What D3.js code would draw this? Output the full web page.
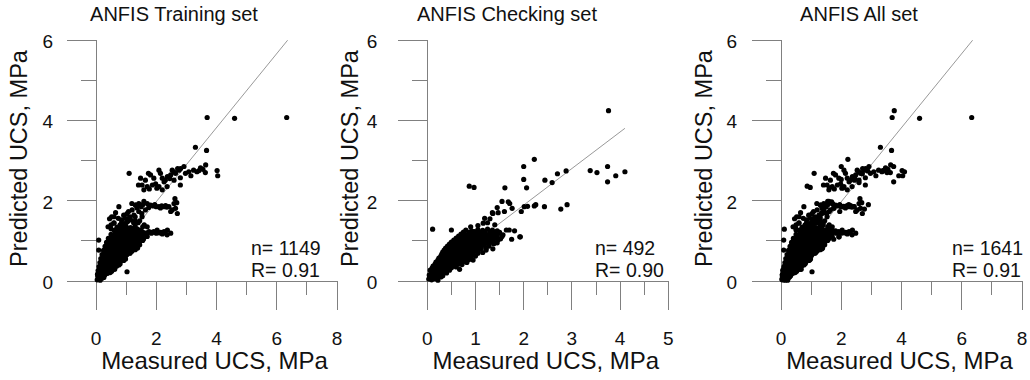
<!DOCTYPE html>
<html><head><meta charset="utf-8">
<script src="https://cdn.jsdelivr.net/npm/d3@7"></script>
<style>
html,body{margin:0;padding:0;background:#fff;}
svg{display:block;font-family:"Liberation Sans",Arial,sans-serif;}
</style></head>
<body>
<svg id="chart" width="1030" height="380"></svg>
<script>
// ---------- data (MPa) ----------
const panelTitles = ["ANFIS Training set", "ANFIS Checking set", "ANFIS All set"];
const nLabels = ["n= 1149", "n= 492", "n= 1641"];
const rLabels = ["R= 0.91", "R= 0.90", "R= 0.91"];
const xMaxes = [8, 5, 8];
const xMajorTicks = [[0,2,4,6,8],[0,1,2,3,4,5],[0,2,4,6,8]];
const xMinorTicks = [[1,3,5,7],[0.5,1.5,2.5,3.5,4.5],[1,3,5,7]];
const yMajorTicks = [0,2,4,6];
const yMinorTicks = [1,3,5];
const fitIntercepts = [0.13, 0.07, 0.13];
const fitSlopes = [0.922, 0.91, 0.922];
const fitXEnds = [6.36, 4.10, 6.36];

const trainingPoints = [
 [0.04,0.03],[0.09,0.06],[0.14,0.02],[0.2,0.07],[0.06,0.12],
 [0.05,0.17],[0.12,0.14],[0.2,0.18],[0.29,0.15],[0.38,0.19],
 [0.07,0.26],[0.15,0.24],[0.24,0.27],[0.33,0.23],[0.43,0.26],[0.52,0.24],
 [0.1,0.36],[0.19,0.34],[0.28,0.37],[0.37,0.33],[0.46,0.36],[0.56,0.34],[0.68,0.37],
 [0.13,0.46],[0.22,0.44],[0.31,0.47],[0.41,0.43],[0.5,0.46],[0.6,0.44],[0.7,0.47],[0.8,0.43],
 [0.16,0.56],[0.25,0.54],[0.35,0.57],[0.45,0.53],[0.55,0.56],[0.65,0.54],[0.75,0.57],[0.86,0.53],[0.98,0.55],
 [0.2,0.66],[0.3,0.64],[0.4,0.67],[0.5,0.63],[0.6,0.66],[0.7,0.64],[0.8,0.67],[0.91,0.63],[1.03,0.66],
 [0.25,0.76],[0.35,0.74],[0.45,0.77],[0.55,0.73],[0.65,0.76],[0.75,0.74],[0.85,0.77],[0.95,0.73],[1.07,0.76],[1.19,0.74],
 [0.3,0.86],[0.4,0.84],[0.5,0.87],[0.6,0.83],[0.7,0.86],[0.8,0.84],[0.9,0.87],[1.0,0.83],[1.11,0.86],[1.24,0.84],[1.37,0.87],
 [0.35,0.96],[0.45,0.94],[0.55,0.97],[0.65,0.93],[0.75,0.96],[0.85,0.94],[0.95,0.97],[1.05,0.93],[1.17,0.96],[1.29,0.94],[1.44,0.97],
 [0.41,1.06],[0.51,1.04],[0.61,1.07],[0.71,1.03],[0.81,1.06],[0.91,1.04],[1.01,1.07],[1.11,1.03],[1.22,1.06],[1.35,1.04],[1.49,1.07],
 [0.5,1.16],[0.61,1.14],[0.72,1.17],[0.82,1.13],[0.92,1.16],[1.02,1.14],[1.12,1.17],[1.22,1.13],[1.34,1.16],[1.47,1.14],[1.61,1.17],
 [0.61,1.26],[0.72,1.24],[0.82,1.27],[0.92,1.23],[1.02,1.26],[1.12,1.24],[1.22,1.27],[1.35,1.23],[1.48,1.26],
 [0.7,1.34],[0.85,1.32],[1.0,1.35],[1.15,1.33],[1.3,1.36],
 [0.08,0.1],[0.17,0.11],[0.26,0.09],
 [0.1,0.2],[0.19,0.21],[0.28,0.19],[0.37,0.2],[0.47,0.21],
 [0.12,0.3],[0.22,0.31],[0.32,0.29],[0.42,0.3],[0.52,0.31],[0.62,0.29],
 [0.17,0.4],[0.27,0.41],[0.36,0.39],[0.46,0.4],[0.56,0.41],[0.66,0.39],[0.76,0.4],
 [0.2,0.5],[0.3,0.51],[0.4,0.49],[0.5,0.5],[0.6,0.51],[0.7,0.49],[0.81,0.5],[0.92,0.51],
 [0.25,0.6],[0.35,0.61],[0.45,0.59],[0.55,0.6],[0.65,0.61],[0.75,0.59],[0.86,0.6],[0.97,0.61],
 [0.28,0.7],[0.4,0.71],[0.5,0.69],[0.6,0.7],[0.7,0.71],[0.8,0.69],[0.9,0.7],[1.01,0.71],[1.13,0.69],
 [0.35,0.8],[0.45,0.81],[0.55,0.79],[0.65,0.8],[0.75,0.81],[0.85,0.79],[0.95,0.8],[1.05,0.81],[1.17,0.79],[1.3,0.8],
 [0.4,0.9],[0.5,0.91],[0.6,0.89],[0.7,0.9],[0.8,0.91],[0.9,0.89],[1.0,0.9],[1.1,0.91],[1.22,0.89],[1.35,0.9],
 [0.45,1.0],[0.56,1.01],[0.66,0.99],[0.76,1.0],[0.86,1.01],[0.96,0.99],[1.06,1.0],[1.17,1.01],[1.28,0.99],[1.4,1.0],[1.55,1.01],
 [0.55,1.1],[0.66,1.11],[0.77,1.09],[0.87,1.1],[0.97,1.11],[1.07,1.09],[1.17,1.1],[1.28,1.11],[1.4,1.09],[1.54,1.1],[1.7,1.11],
 [0.66,1.2],[0.77,1.21],[0.87,1.19],[0.97,1.2],[1.07,1.21],[1.17,1.19],[1.28,1.2],[1.41,1.21],[1.55,1.19],[1.7,1.2],[1.85,1.21],[2.0,1.19],[2.15,1.21],[2.3,1.2],
 [0.78,1.3],[0.92,1.29],[1.08,1.31],[1.22,1.3],[1.38,1.29],
 [0.45,1.55],[0.52,1.6],[0.74,1.56],[0.97,1.56],[1.13,1.6],[1.3,1.6],[1.52,1.68],[0.6,1.45],[0.85,1.45],
 [1.05,1.48],[1.25,1.45],[1.45,1.5],[0.5,1.4],[1.6,1.4],[1.7,1.35],[0.4,1.35],[0.92,1.4],[1.08,1.73],
 [1.19,1.93],[1.32,1.89],[0.65,1.7],[1.55,1.35],
 [1.76,1.23],[1.92,1.23],[2.03,1.27],[2.26,1.23],[2.37,1.27],[2.48,1.19],[1.53,1.23],[1.6,1.2],[1.68,1.18],
 [1.84,1.19],[2.1,1.2],[2.2,1.17],[1.58,1.05],[1.45,0.9],[1.38,0.82],[1.3,0.78],[2.36,1.15],
 [1.03,0.23],[0.09,1.02],[0.09,0.77],[0.59,1.44],[0.7,1.31],[0.5,1.3],
 [0.76,1.85],[0.92,1.64],[1.03,1.68],[1.2,1.77],[1.09,1.56],[1.26,1.64],[1.42,1.73],[1.53,1.6],[1.64,1.77],
 [1.36,1.82],[1.5,1.85],[1.15,1.52],[1.3,1.5],[0.6,1.6],[0.85,1.52],[1.0,1.45],[0.8,1.4],[1.4,1.45],
 [1.31,1.89],[1.42,1.93],[1.59,1.98],[1.7,1.93],[1.81,1.89],[2.0,1.85],[2.09,1.85],[2.26,1.85],[2.42,1.85],
 [2.53,1.77],[2.64,1.81],[2.59,1.93],[2.7,1.68],[2.48,1.73],[1.9,1.87],[2.18,1.87],[2.35,1.84],[2.68,1.95],
 [2.62,2.05],[1.75,1.83],[1.55,1.9],[1.95,1.9],[2.14,1.82],[2.31,1.88],
 [1.1,2.68],[1.48,2.56],[1.53,2.39],[1.64,2.51],[1.7,2.35],[1.81,2.64],[1.92,2.56],[2.09,2.76],[2.14,2.68],
 [2.2,2.56],[2.26,2.47],[2.37,2.6],[2.48,2.64],[2.53,2.76],[2.59,2.51],[2.64,2.68],[2.76,2.76],[2.81,2.8],
 [2.09,2.35],[2.2,2.27],[1.87,2.39],[1.59,2.27],[2.97,2.68],[3.08,2.72],[3.24,2.76],[3.35,2.72],[2.8,2.57],
 [2.8,2.39],[2.36,2.35],[2.58,2.72],[2.71,2.8],[2.3,2.51],[2.92,2.85],[3.15,2.62],[3.42,2.75],[3.55,2.78],
 [1.77,2.29],[1.98,2.42],[2.02,2.31],[2.45,2.55],[1.41,2.39],[1.74,2.68],
 [3.69,4.07],[4.6,4.05],[6.33,4.07],[3.3,3.33],[3.67,3.25],[3.64,2.89],[3.47,2.82],[3.63,2.7],[4.02,2.75],[4.04,2.62]
];

const checkingPoints = [
 [0.03,0.05],[0.09,0.03],[0.15,0.06],[0.22,0.02],[0.05,0.11],
 [0.04,0.15],[0.1,0.17],[0.17,0.14],[0.25,0.16],[0.32,0.13],
 [0.06,0.27],[0.14,0.25],[0.22,0.28],[0.3,0.26],[0.38,0.29],[0.46,0.27],
 [0.12,0.37],[0.2,0.35],[0.28,0.38],[0.36,0.36],[0.44,0.39],[0.52,0.37],[0.6,0.35],
 [0.18,0.47],[0.26,0.45],[0.34,0.48],[0.42,0.46],[0.5,0.49],[0.58,0.47],[0.66,0.45],[0.74,0.48],[0.82,0.46],
 [0.24,0.57],[0.32,0.55],[0.4,0.58],[0.48,0.56],[0.56,0.59],[0.64,0.57],[0.72,0.55],[0.8,0.58],[0.9,0.56],
 [0.3,0.67],[0.38,0.65],[0.46,0.68],[0.54,0.66],[0.62,0.69],[0.7,0.67],[0.78,0.65],[0.86,0.68],[0.95,0.66],[1.05,0.69],
 [0.35,0.77],[0.43,0.75],[0.51,0.78],[0.59,0.76],[0.67,0.79],[0.75,0.77],[0.83,0.75],[0.91,0.78],[1.0,0.76],[1.1,0.79],[1.22,0.77],
 [0.42,0.87],[0.5,0.85],[0.58,0.88],[0.66,0.86],[0.74,0.89],[0.82,0.87],[0.9,0.85],[0.98,0.88],[1.07,0.86],[1.17,0.89],[1.28,0.87],
 [0.5,0.97],[0.58,0.95],[0.66,0.98],[0.74,0.96],[0.82,0.99],[0.9,0.97],[0.98,0.95],[1.06,0.98],[1.14,0.96],[1.23,0.99],[1.33,0.97],[1.45,0.95],
 [0.6,1.07],[0.68,1.05],[0.76,1.08],[0.84,1.06],[0.92,1.09],[1.0,1.07],[1.08,1.05],[1.16,1.08],[1.24,1.06],[1.32,1.09],[1.42,1.07],[1.52,1.05],
 [0.7,1.17],[0.8,1.15],[0.9,1.18],[1.0,1.16],[1.08,1.19],[1.16,1.17],[1.24,1.15],[1.32,1.18],[1.4,1.16],[1.5,1.19],
 [0.8,1.27],[0.92,1.25],[1.05,1.28],[1.15,1.26],[1.25,1.29],[1.35,1.27],[1.45,1.25],
 [0.07,0.1],[0.13,0.09],[0.2,0.11],[0.28,0.1],
 [0.08,0.21],[0.16,0.2],[0.24,0.22],[0.32,0.21],[0.4,0.2],
 [0.1,0.32],[0.18,0.31],[0.26,0.33],[0.34,0.32],[0.42,0.31],[0.5,0.33],
 [0.16,0.42],[0.24,0.41],[0.32,0.43],[0.4,0.42],[0.48,0.41],[0.56,0.43],[0.64,0.42],[0.72,0.41],
 [0.22,0.52],[0.3,0.51],[0.38,0.53],[0.46,0.52],[0.54,0.51],[0.62,0.53],[0.7,0.52],[0.78,0.51],[0.86,0.53],
 [0.28,0.62],[0.36,0.61],[0.44,0.63],[0.52,0.62],[0.6,0.61],[0.68,0.63],[0.76,0.62],[0.84,0.61],[0.92,0.63],[1.0,0.62],
 [0.32,0.72],[0.4,0.71],[0.48,0.73],[0.56,0.72],[0.64,0.71],[0.72,0.73],[0.8,0.72],[0.88,0.71],[0.96,0.73],[1.05,0.72],[1.15,0.71],
 [0.38,0.82],[0.46,0.81],[0.54,0.83],[0.62,0.82],[0.7,0.81],[0.78,0.83],[0.86,0.82],[0.94,0.81],[1.03,0.83],[1.12,0.82],[1.22,0.81],
 [0.46,0.92],[0.54,0.91],[0.62,0.93],[0.7,0.92],[0.78,0.91],[0.86,0.93],[0.94,0.92],[1.02,0.91],[1.1,0.93],[1.19,0.92],[1.28,0.91],[1.38,0.93],
 [0.55,1.02],[0.64,1.01],[0.72,1.03],[0.8,1.02],[0.88,1.01],[0.96,1.03],[1.04,1.02],[1.12,1.01],[1.2,1.03],[1.28,1.02],[1.37,1.01],[1.47,1.03],
 [0.65,1.12],[0.74,1.11],[0.84,1.13],[0.94,1.12],[1.04,1.11],[1.12,1.13],[1.2,1.12],[1.28,1.11],[1.36,1.13],[1.45,1.12],[1.55,1.11],
 [0.75,1.22],[0.86,1.21],[0.98,1.23],[1.1,1.22],[1.2,1.21],[1.3,1.23],[1.4,1.22],[1.5,1.21],
 [1.25,1.45],[1.05,1.38],[1.3,1.55],[0.9,1.35],[1.4,1.4],[1.16,1.44],[1.19,1.56],
 [0.95,0.52],[0.67,0.29],[1.36,0.8],
 [1.81,1.25],[1.93,1.1],[1.64,1.27],[1.57,1.15],[1.92,1.1],[1.7,1.27],[1.75,1.04],
 [1.36,1.68],[1.47,1.7],[1.71,1.93],[1.76,1.81],[1.6,1.73],[1.95,1.73],[1.45,1.83],[1.35,1.7],[1.55,1.98],[1.68,1.97],
 [0.11,1.29],[0.5,1.27],
 [0.87,2.36],[0.97,2.33],[1.61,2.32],
 [2.01,1.85],[2.08,1.86],[2.22,1.87],[2.25,1.9],[2.43,1.85],[2.77,1.79],[2.9,1.9],
 [2.22,3.03],[2.0,2.85],[2.0,2.53],[2.06,2.32],[2.44,2.51],[2.59,2.45],[2.7,2.67],[2.88,2.74],
 [3.38,2.75],[3.52,2.7],[3.74,2.85],[3.74,2.47],[3.91,2.62],[4.1,2.72],[3.76,4.24]
];

const allPoints = trainingPoints.concat(checkingPoints);
const panelData = [trainingPoints, checkingPoints, allPoints];

// ---------- layout ----------
const axisLeft = [96, 427.3, 781];
const axisWidth = 241;
const yTop = 40, yBottom = 281;
const titleX = [174, 507, 859];
const annotX = [251, 595, 952];
const yLabelGap = [43, 50, 44];

const svg = d3.select("#chart");
const axisColor = "#808080";

panelData.forEach((pts, i) => {
  const x0 = axisLeft[i];
  const x = d3.scaleLinear().domain([0, xMaxes[i]]).range([x0, x0 + axisWidth]);
  const y = d3.scaleLinear().domain([0, 6]).range([yBottom, yTop]);
  const g = svg.append("g");

  g.append("line").attr("x1", x0 - 29).attr("x2", x0 + axisWidth)
    .attr("y1", yBottom).attr("y2", yBottom)
    .attr("stroke", axisColor).attr("stroke-width", 1).attr("shape-rendering","crispEdges");
  g.append("line").attr("x1", x0).attr("x2", x0).attr("y1", yTop).attr("y2", yBottom)
    .attr("stroke", axisColor).attr("stroke-width", 1).attr("shape-rendering","crispEdges");

  g.selectAll(".xmaj").data(xMajorTicks[i]).enter().append("line")
    .attr("x1", d => x(d)).attr("x2", d => x(d)).attr("y1", yBottom).attr("y2", yBottom + 29)
    .attr("stroke", axisColor).attr("shape-rendering","crispEdges");
  g.selectAll(".xmin").data(xMinorTicks[i]).enter().append("line")
    .attr("x1", d => x(d)).attr("x2", d => x(d)).attr("y1", yBottom).attr("y2", yBottom + 14)
    .attr("stroke", axisColor).attr("shape-rendering","crispEdges");
  g.selectAll(".ymaj").data(yMajorTicks).enter().append("line")
    .attr("x1", x0 - 29).attr("x2", x0).attr("y1", d => y(d)).attr("y2", d => y(d))
    .attr("stroke", axisColor).attr("shape-rendering","crispEdges");
  g.selectAll(".ymin").data(yMinorTicks).enter().append("line")
    .attr("x1", x0 - 15).attr("x2", x0).attr("y1", d => y(d)).attr("y2", d => y(d))
    .attr("stroke", axisColor).attr("shape-rendering","crispEdges");

  g.selectAll(".xl").data(xMajorTicks[i]).enter().append("text")
    .attr("x", d => x(d)).attr("y", 345).attr("text-anchor", "middle")
    .attr("font-size", 19).attr("fill", "#111").text(d => d);
  g.selectAll(".yl").data(yMajorTicks).enter().append("text")
    .attr("x", x0 - yLabelGap[i]).attr("y", d => y(d) + 8).attr("text-anchor", "end")
    .attr("font-size", 19).attr("fill", "#111").text(d => d);

  g.append("text").attr("x", x0 + axisWidth / 2 - 2).attr("y", 369).attr("text-anchor", "middle")
    .attr("font-size", 24).attr("fill", "#111").text("Measured UCS, MPa");
  g.append("text").attr("transform", `translate(${x0 - 69},${(yTop + yBottom) / 2 - 2}) rotate(-90)`)
    .attr("text-anchor", "middle").attr("font-size", 23.5).attr("fill", "#111")
    .text("Predicted UCS, MPa");

  g.append("text").attr("x", titleX[i]).attr("y", 21).attr("text-anchor", "middle")
    .attr("font-size", 20).attr("fill", "#111").text(panelTitles[i]);

  g.append("line")
    .attr("x1", x(0.03)).attr("y1", y(fitIntercepts[i] + fitSlopes[i] * 0.03))
    .attr("x2", x(fitXEnds[i])).attr("y2", y(fitIntercepts[i] + fitSlopes[i] * fitXEnds[i]))
    .attr("stroke", "#999").attr("stroke-width", 1);

  g.selectAll("circle").data(pts).enter().append("circle")
    .attr("cx", d => x(d[0])).attr("cy", d => y(d[1])).attr("r", 2.6).attr("fill", "#000");

  g.append("text").attr("x", annotX[i]).attr("y", 255).attr("font-size", 19.5).attr("fill", "#111").text(nLabels[i]);
  g.append("text").attr("x", annotX[i]).attr("y", 277).attr("font-size", 19.5).attr("fill", "#111").text(rLabels[i]);
});
</script>
</body></html>
